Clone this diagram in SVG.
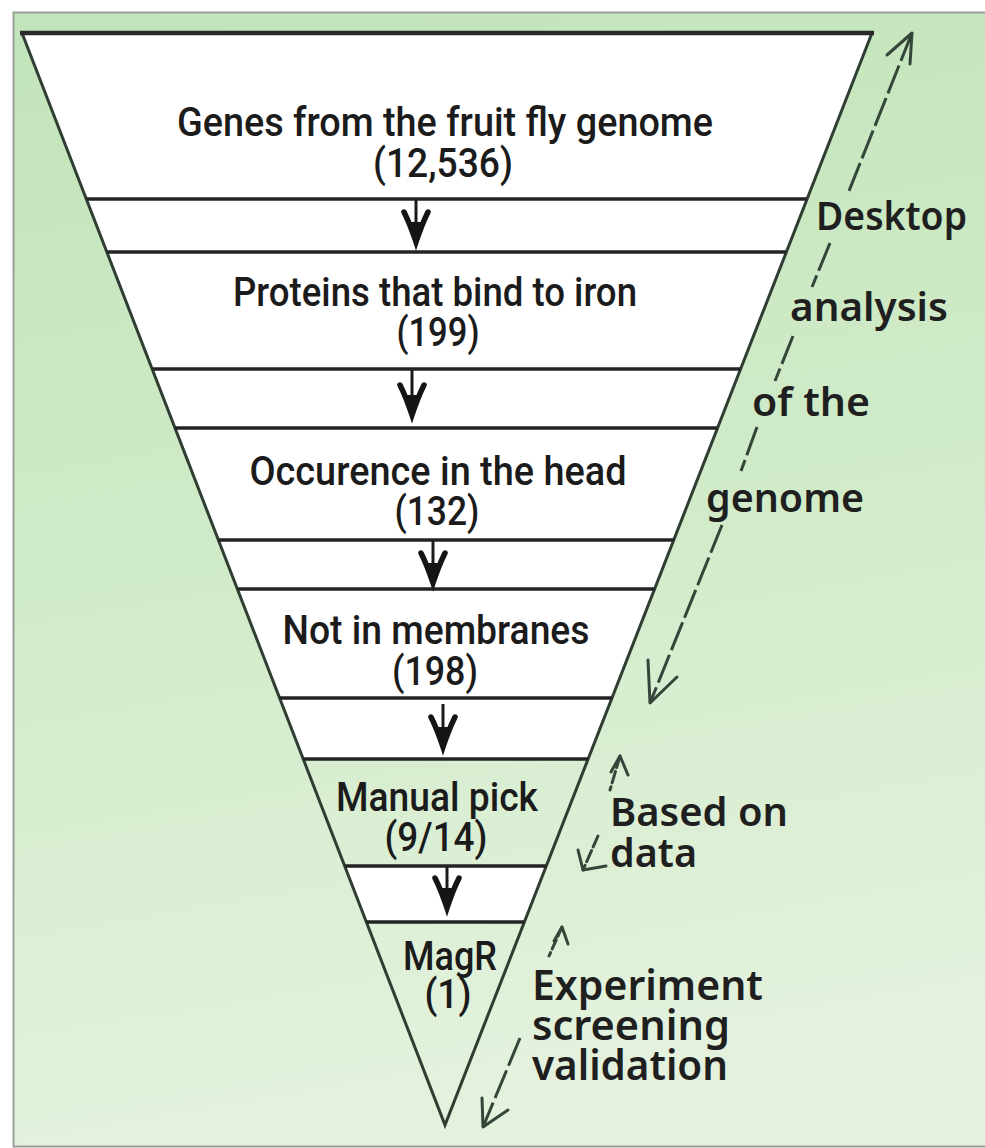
<svg xmlns="http://www.w3.org/2000/svg" width="985" height="1148" viewBox="0 0 985 1148">
<defs>
<linearGradient id="bg" x1="0" y1="0" x2="0.15" y2="1">
<stop offset="0" stop-color="#c2e4ba"/>
<stop offset="0.5" stop-color="#d0ebc8"/>
<stop offset="1" stop-color="#e4f2dd"/>
</linearGradient>
<g id="head">
<path d="M-12,-30 Q-6,-18 0,0 Q6,-18 12,-30" fill="none" stroke="#151515" stroke-width="5.5" stroke-linecap="round"/>
<path d="M-7,-20 L7,-20 L0,0 Z" fill="#151515"/>
</g>
</defs>
<style>
.lab{font-family:Roboto,"Liberation Sans",Arial,sans-serif;font-weight:500;font-size:40px;fill:#1b1b1b;text-anchor:middle}
.side{font-family:"Noto Sans","Open Sans",sans-serif;font-weight:600;font-size:40px;fill:#1f1f1f}
.edge{stroke:#2f3d33;stroke-width:3;fill:none}
.bar{stroke:#232323;stroke-width:3.4;fill:none}
.dash{stroke:#34463a;stroke-width:3;fill:none;stroke-dasharray:30 5}
.ah{stroke:#34463a;stroke-width:3;fill:none;stroke-linecap:round;stroke-linejoin:round}
.stem{stroke:#1a1a1a;stroke-width:3}
</style>
<rect x="0" y="0" width="985" height="1148" fill="#ffffff"/>
<rect x="13.5" y="12.5" width="980" height="1134" fill="url(#bg)" stroke="#9a9f98" stroke-width="2"/>

<g id="funnel">
<polygon points="22,33 872,33 588.1,759 303.3,759" fill="#ffffff"/>
<polygon points="345,866 546,866 524.4,922 366.4,922" fill="#ffffff"/>
<path class="edge" d="M22,33 L445,1125 L872,33"/>
<line x1="20" y1="33" x2="874" y2="33" stroke="#2a2a2a" stroke-width="4.5"/>
<line class="bar" x1="86.3" y1="199" x2="807" y2="199"/>
<line class="bar" x1="106.8" y1="252" x2="786" y2="252"/>
<line class="bar" x1="152.2" y1="369" x2="740.6" y2="369"/>
<line class="bar" x1="175" y1="428" x2="717.6" y2="428"/>
<line class="bar" x1="218.4" y1="540" x2="673.8" y2="540"/>
<line class="bar" x1="237.4" y1="589" x2="654.6" y2="589"/>
<line class="bar" x1="279.6" y1="698" x2="612" y2="698"/>
<line class="bar" x1="303.3" y1="759" x2="588.1" y2="759" stroke="#4a4a4a"/>
<line class="bar" x1="344.7" y1="866" x2="546.3" y2="866" stroke="#4a4a4a"/>
<line class="bar" x1="366.4" y1="922" x2="524.4" y2="922" stroke="#4a4a4a"/>
</g>

<g id="step-arrows">
<line class="stem" x1="416" y1="200" x2="416" y2="222"/><use href="#head" x="416" y="242"/>
<line class="stem" x1="412" y1="370" x2="412" y2="395"/><use href="#head" x="412" y="415"/>
<line class="stem" x1="433" y1="541" x2="433" y2="563"/><use href="#head" x="433" y="583"/>
<line class="stem" x1="443" y1="704" x2="443" y2="727"/><use href="#head" x="443" y="747"/>
<line class="stem" x1="447" y1="867" x2="447" y2="888"/><use href="#head" x="447" y="908"/>
</g>

<g id="node-genes">
<text class="lab" x="445" y="136" textLength="536" lengthAdjust="spacingAndGlyphs">Genes from the fruit fly genome</text>
<text class="lab" x="443" y="177" textLength="140" lengthAdjust="spacingAndGlyphs">(12,536)</text>
</g>
<g id="node-proteins">
<text class="lab" x="435" y="306" textLength="404" lengthAdjust="spacingAndGlyphs">Proteins that bind to iron</text>
<text class="lab" x="438" y="346" textLength="83" lengthAdjust="spacingAndGlyphs">(199)</text>
</g>
<g id="node-head">
<text class="lab" x="438" y="485" textLength="377" lengthAdjust="spacingAndGlyphs">Occurence in the head</text>
<text class="lab" x="437" y="525" textLength="85" lengthAdjust="spacingAndGlyphs">(132)</text>
</g>
<g id="node-membranes">
<text class="lab" x="436" y="644" textLength="307" lengthAdjust="spacingAndGlyphs">Not in membranes</text>
<text class="lab" x="435" y="685" textLength="86" lengthAdjust="spacingAndGlyphs">(198)</text>
</g>
<g id="node-manual">
<text class="lab" x="437" y="811" textLength="202" lengthAdjust="spacingAndGlyphs">Manual pick</text>
<text class="lab" x="436" y="851" textLength="103" lengthAdjust="spacingAndGlyphs">(9/14)</text>
</g>
<g id="node-magr">
<text class="lab" x="450" y="970" textLength="94" lengthAdjust="spacingAndGlyphs">MagR</text>
<text class="lab" x="448" y="1008" textLength="47" lengthAdjust="spacingAndGlyphs">(1)</text>
</g>

<g id="connectors">
<line class="dash" x1="912" y1="33" x2="849" y2="191"/>
<line class="dash" x1="830" y1="243" x2="812" y2="287"/>
<line class="dash" x1="793" y1="336" x2="775" y2="381"/>
<line class="dash" x1="757" y1="427" x2="741" y2="471"/>
<line class="dash" x1="722" y1="525" x2="650" y2="703"/>
<path class="ah" d="M887,55 L912,33 L910,64"/>
<path class="ah" d="M648,660 L650,703 L677,677"/>
<line class="ah" x1="620" y1="756" x2="610" y2="790" stroke-dasharray="12 4"/>
<path class="ah" d="M611,772 L620,756 L628,775"/>
<line class="ah" x1="598" y1="836" x2="583" y2="870" stroke-dasharray="12 4"/>
<path class="ah" d="M578,850 L583,870 L606,866"/>
<line class="ah" x1="562" y1="927" x2="549" y2="956" stroke-dasharray="10 4"/>
<path class="ah" d="M554,941 L562,927 L568,944"/>
<line class="dash" x1="520" y1="1038" x2="483" y2="1127"/>
<path class="ah" d="M482,1098 L483,1127 L508,1110"/>
</g>

<g id="label-desktop">
<text class="side" x="816" y="230" textLength="151" lengthAdjust="spacingAndGlyphs">Desktop</text>
<text class="side" x="790" y="321" textLength="158" lengthAdjust="spacingAndGlyphs">analysis</text>
<text class="side" x="752" y="416" textLength="118" lengthAdjust="spacingAndGlyphs">of the</text>
<text class="side" x="706" y="512" textLength="158" lengthAdjust="spacingAndGlyphs">genome</text>
</g>
<g id="label-based">
<text class="side" x="610" y="826" textLength="178" lengthAdjust="spacingAndGlyphs">Based on</text>
<text class="side" x="610" y="867" textLength="87" lengthAdjust="spacingAndGlyphs">data</text>
</g>
<g id="label-experiment">
<text class="side" x="532" y="1000" style="font-size:42px" textLength="231" lengthAdjust="spacingAndGlyphs">Experiment</text>
<text class="side" x="532" y="1040" style="font-size:42px" textLength="198" lengthAdjust="spacingAndGlyphs">screening</text>
<text class="side" x="532" y="1080" style="font-size:42px" textLength="196" lengthAdjust="spacingAndGlyphs">validation</text>
</g>
</svg>
